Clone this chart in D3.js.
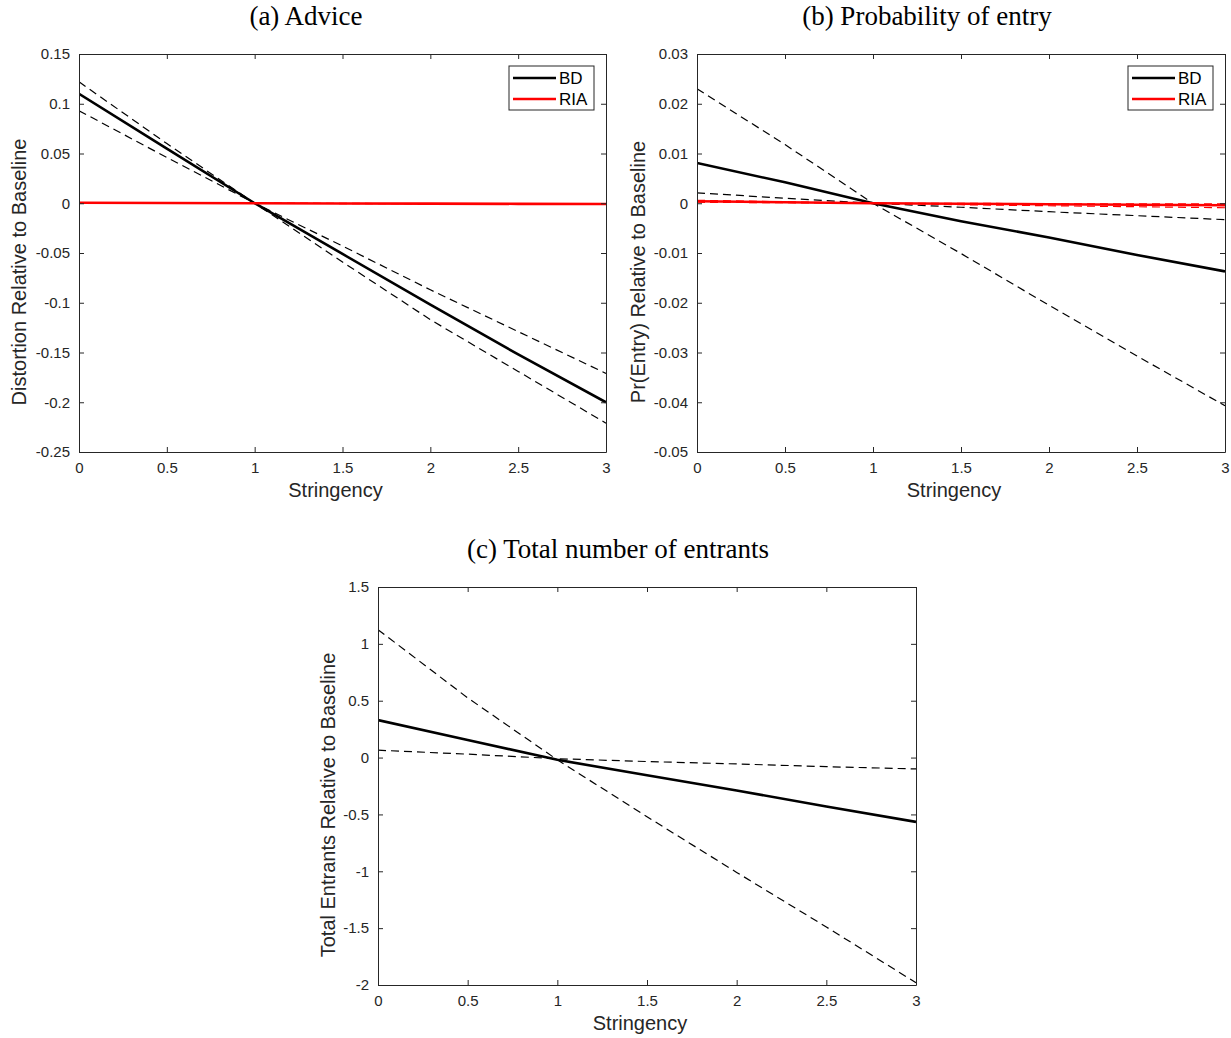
<!DOCTYPE html>
<html>
<head>
<meta charset="utf-8">
<script src="https://cdn.jsdelivr.net/npm/d3@7"></script>
<style>
  body { margin: 0; background: #fff; }
  svg { display: block; }
</style>
</head>
<body>
<svg id="chart" width="1231" height="1038"></svg>
<script>
// ---------- data ----------
const stringency = [0, 0.5, 1, 1.5, 2, 2.5, 3];

// (a) Advice: distortion relative to baseline
const advBD      = [0.110, 0.055, 0, -0.051, -0.102, -0.152, -0.200];
const advBDhi    = [0.122, 0.060, 0, -0.059, -0.117, -0.169, -0.221];
const advBDlo    = [0.093, 0.046, 0, -0.043, -0.087, -0.129, -0.171];
const advRIA     = [0.0005, 0.0003, 0, -0.0002, -0.0004, -0.0006, -0.0008];
const advRIAhi   = [0.0006, 0.0003, 0, -0.0002, -0.0003, -0.0005, -0.0006];
const advRIAlo   = [0.0004, 0.0002, 0, -0.0003, -0.0005, -0.0007, -0.0010];

// (b) Probability of entry
const entBD      = [0.0081, 0.0042, 0, -0.0036, -0.0069, -0.0104, -0.0137];
const entBDhi    = [0.0230, 0.0118, 0, -0.0101, -0.0205, -0.0307, -0.0407];
const entBDlo    = [0.0021, 0.0010, 0, -0.0008, -0.0017, -0.0025, -0.0033];
const entRIA     = [0.0004, 0.0002, 0, -0.0001, -0.0002, -0.0003, -0.0004];
const entRIAhi   = [0.0006, 0.0003, 0, 0.0000, -0.0001, -0.0001, -0.0001];
const entRIAlo   = [0.0002, 0.0001, 0, -0.0003, -0.0005, -0.0007, -0.0009];

// (c) Total number of entrants
const totBD      = [0.33, 0.155, -0.02, -0.155, -0.29, -0.43, -0.566];
const totBDhi    = [1.125, 0.525, -0.02, -0.52, -1.01, -1.49, -1.98];
const totBDlo    = [0.065, 0.030, -0.01, -0.035, -0.056, -0.080, -0.100];

// tick labels
const xTicks  = [0, 0.5, 1, 1.5, 2, 2.5, 3];
const xTickLabels = ["0", "0.5", "1", "1.5", "2", "2.5", "3"];
const yTicksA = [0.15, 0.1, 0.05, 0, -0.05, -0.1, -0.15, -0.2, -0.25];
const yTickLabelsA = ["0.15", "0.1", "0.05", "0", "-0.05", "-0.1", "-0.15", "-0.2", "-0.25"];
const yTicksB = [0.03, 0.02, 0.01, 0, -0.01, -0.02, -0.03, -0.04, -0.05];
const yTickLabelsB = ["0.03", "0.02", "0.01", "0", "-0.01", "-0.02", "-0.03", "-0.04", "-0.05"];
const yTicksC = [1.5, 1, 0.5, 0, -0.5, -1, -1.5, -2];
const yTickLabelsC = ["1.5", "1", "0.5", "0", "-0.5", "-1", "-1.5", "-2"];

const legendNames = ["BD", "RIA"];

// ---------- drawing ----------
const svg = d3.select("#chart");
const axisColor = "#262626";
const tickFont = "Liberation Sans, Arial, sans-serif";

function panel(opts) {
  const { left, top, width, height, yDomain, yTicks, yLabels, title, titleX, ylabel, ylabelX,
          black, red, legend } = opts;
  const g = svg.append("g");
  const x = d3.scaleLinear().domain([0, 3]).range([left, left + width]);
  const y = d3.scaleLinear().domain(yDomain).range([top + height, top]);

  const clipId = "clip" + Math.round(left) + "_" + Math.round(top);
  svg.append("clipPath").attr("id", clipId)
    .append("rect").attr("x", left).attr("y", top).attr("width", width).attr("height", height);

  const line = d3.line().x((d, i) => x(stringency[i])).y(d => y(d));
  const plot = g.append("g").attr("clip-path", `url(#${clipId})`);

  function drawSet(set, color) {
    if (!set) return;
    set.dashed.forEach(arr => {
      plot.append("path").attr("d", line(arr)).attr("fill", "none")
        .attr("stroke", color).attr("stroke-width", 1.2).attr("stroke-dasharray", "8,5");
    });
    plot.append("path").attr("d", line(set.solid)).attr("fill", "none")
      .attr("stroke", color).attr("stroke-width", 2.6);
  }
  drawSet(black, "#000000");
  drawSet(red, "#ff0000");

  const tickLen = 5;
  const bottom = d3.axisBottom(x).tickValues(xTicks).tickSizeInner(-tickLen).tickSizeOuter(0)
    .tickPadding(10).tickFormat((d, i) => xTickLabels[i]);
  const topAx = d3.axisTop(x).tickValues(xTicks).tickSizeInner(-tickLen).tickSizeOuter(0).tickFormat("");
  const leftAx = d3.axisLeft(y).tickValues(yTicks).tickSizeInner(-tickLen).tickSizeOuter(0)
    .tickPadding(9).tickFormat((d, i) => yLabels[i]);
  const rightAx = d3.axisRight(y).tickValues(yTicks).tickSizeInner(-tickLen).tickSizeOuter(0).tickFormat("");

  const axes = [
    g.append("g").attr("transform", `translate(0,${top + height})`).call(bottom),
    g.append("g").attr("transform", `translate(0,${top})`).call(topAx),
    g.append("g").attr("transform", `translate(${left},0)`).call(leftAx),
    g.append("g").attr("transform", `translate(${left + width},0)`).call(rightAx)
  ];
  axes.forEach(a => {
    a.select(".domain").attr("stroke", axisColor).attr("stroke-width", 1);
    a.selectAll(".tick line").attr("stroke", axisColor).attr("stroke-width", 1);
    a.selectAll(".tick text").attr("fill", axisColor)
      .style("font-family", tickFont).style("font-size", "15px");
  });

  g.append("text").attr("x", titleX).attr("y", top - 29)
    .attr("text-anchor", "middle")
    .style("font-family", "Liberation Serif, Times New Roman, serif")
    .style("font-size", "27px").attr("fill", "#000")
    .text(title);

  g.append("text").attr("x", left + width / 2 - 7).attr("y", top + height + 45)
    .attr("text-anchor", "middle")
    .style("font-family", tickFont).style("font-size", "20px").attr("fill", axisColor)
    .text("Stringency");

  g.append("text")
    .attr("transform", `translate(${ylabelX},${top + height / 2 + 19}) rotate(-90)`)
    .attr("text-anchor", "middle")
    .style("font-family", tickFont).style("font-size", "20px").attr("fill", axisColor)
    .text(ylabel);

  if (legend) {
    const lx = left + width - 97, ly = top + 12, lw = 85, lh = 44;
    const lg = g.append("g");
    lg.append("rect").attr("x", lx).attr("y", ly).attr("width", lw).attr("height", lh)
      .attr("fill", "#fff").attr("stroke", axisColor).attr("stroke-width", 1);
    const colors = ["#000000", "#ff0000"];
    legendNames.forEach((name, i) => {
      const yy = ly + 12 + i * 21;
      lg.append("line").attr("x1", lx + 4).attr("x2", lx + 47).attr("y1", yy).attr("y2", yy)
        .attr("stroke", colors[i]).attr("stroke-width", 2.6);
      lg.append("text").attr("x", lx + 50).attr("y", yy + 6)
        .style("font-family", tickFont).style("font-size", "17px").attr("fill", "#000")
        .text(name);
    });
  }
}

panel({
  left: 79, top: 54, width: 527, height: 398,
  yDomain: [-0.25, 0.15], yTicks: yTicksA, yLabels: yTickLabelsA,
  title: "(a) Advice", titleX: 306,
  ylabel: "Distortion Relative to Baseline", ylabelX: 26,
  black: { solid: advBD, dashed: [advBDhi, advBDlo] },
  red: { solid: advRIA, dashed: [advRIAhi, advRIAlo] },
  legend: true
});

panel({
  left: 697, top: 54, width: 528, height: 398,
  yDomain: [-0.05, 0.03], yTicks: yTicksB, yLabels: yTickLabelsB,
  title: "(b) Probability of entry", titleX: 927,
  ylabel: "Pr(Entry) Relative to Baseline", ylabelX: 645,
  black: { solid: entBD, dashed: [entBDhi, entBDlo] },
  red: { solid: entRIA, dashed: [entRIAhi, entRIAlo] },
  legend: true
});

panel({
  left: 378, top: 587, width: 538, height: 398,
  yDomain: [-2, 1.5], yTicks: yTicksC, yLabels: yTickLabelsC,
  title: "(c) Total number of entrants", titleX: 618,
  ylabel: "Total Entrants Relative to Baseline", ylabelX: 335,
  black: { solid: totBD, dashed: [totBDhi, totBDlo] },
  red: null,
  legend: false
});
</script>
</body>
</html>
